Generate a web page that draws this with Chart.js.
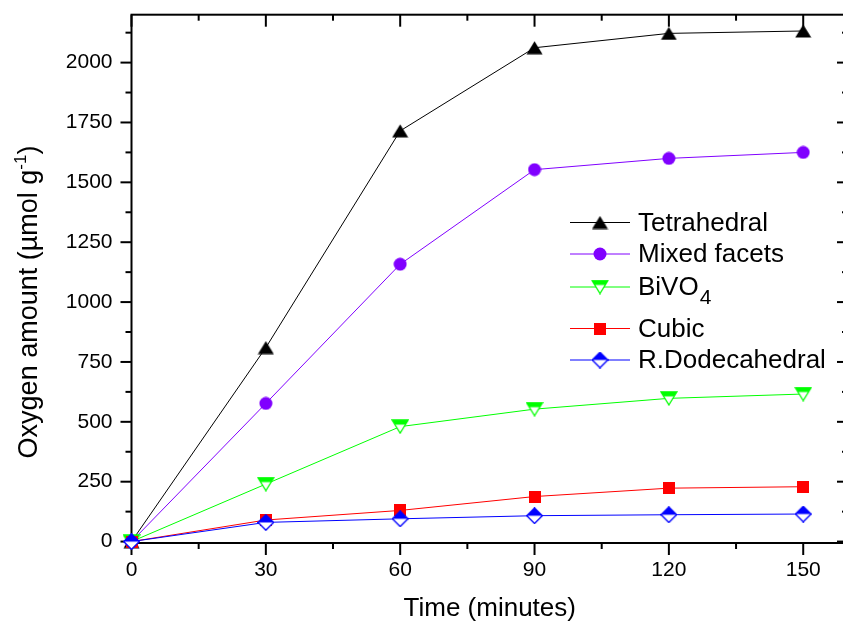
<!DOCTYPE html>
<html>
<head>
<meta charset="utf-8">
<script src="https://cdn.jsdelivr.net/npm/chart.js@4.4.0/dist/chart.umd.min.js"></script>
<style>
  html, body { margin: 0; padding: 0; background: #fff; overflow: hidden; }
  #wrap { width: 843px; height: 628px; overflow: hidden; }
  #chart { display: block; width: 850px; height: 628px; }
</style>
</head>
<body>
<div id="wrap"><canvas id="chart" width="850" height="628"></canvas></div>
<script>
// time points and oxygen evolved (umol/g)
var minutes       = [0, 30, 60, 90, 120, 150];
var tetrahedral   = [0, 810, 1715, 2062, 2122, 2132];
var mixedFacets   = [0, 577, 1158, 1553, 1600, 1625];
var bivo4         = [0, 240, 480, 553, 598, 616];
var cubic         = [0, 90, 130, 188, 223, 229];
var rDodecahedral = [0, 80, 95, 108, 112, 115];

var seriesNames = ['Tetrahedral', 'Mixed facets', 'BiVO4', 'Cubic', 'R.Dodecahedral'];

var xMajor = [0, 30, 60, 90, 120, 150];
var xMinor = [15, 45, 75, 105, 135];
var yMajor = [0, 250, 500, 750, 1000, 1250, 1500, 1750, 2000];
var yMinor = [125, 375, 625, 875, 1125, 1375, 1625, 1875, 2125];

var FONT = '"Liberation Sans", Arial, sans-serif';

function marker(w, h, paint) {
  var c = document.createElement('canvas');
  c.width = w; c.height = h;
  paint(c.getContext('2d'));
  return c;
}

var markers = {
  up: marker(17, 14, function (g) {
    g.beginPath(); g.moveTo(8.5, 0.5); g.lineTo(16.5, 13.5); g.lineTo(0.5, 13.5); g.closePath();
    g.fillStyle = '#000'; g.fill();
  }),
  circle: marker(14, 14, function (g) {
    g.beginPath(); g.arc(7, 7, 6.5, 0, Math.PI * 2);
    g.fillStyle = '#8000ff'; g.fill();
  }),
  down: marker(18, 15, function (g) {
    g.beginPath(); g.moveTo(1, 1); g.lineTo(17, 1); g.lineTo(9, 14); g.closePath();
    g.fillStyle = '#fff'; g.fill();
    g.save(); g.clip(); g.fillStyle = '#00ff00'; g.fillRect(0, 0, 18, 5.5); g.restore();
    g.strokeStyle = '#00ff00'; g.lineWidth = 1.3; g.stroke();
  }),
  square: marker(12, 12, function (g) {
    g.fillStyle = '#ff0000'; g.fillRect(0, 0, 12, 12);
  }),
  diamond: marker(17, 17, function (g) {
    g.beginPath(); g.moveTo(8.5, 0.7); g.lineTo(16.3, 8.5); g.lineTo(8.5, 16.3); g.lineTo(0.7, 8.5); g.closePath();
    g.fillStyle = '#fff'; g.fill();
    g.save(); g.clip(); g.fillStyle = '#0000ff'; g.fillRect(0, 0, 17, 8.5); g.restore();
    g.strokeStyle = '#0000ff'; g.lineWidth = 1.3; g.stroke();
  })
};

var colors = ['#000000', '#8000ff', '#00ff00', '#ff0000', '#0000ff'];
var styles = [markers.up, markers.circle, markers.down, markers.square, markers.diamond];
var values = [tetrahedral, mixedFacets, bivo4, cubic, rDodecahedral];

var datasets = values.map(function (vals, i) {
  return {
    label: seriesNames[i],
    data: vals.map(function (v, j) { return { x: minutes[j], y: v }; }),
    borderColor: colors[i],
    backgroundColor: colors[i],
    borderWidth: 1,
    tension: 0,
    pointStyle: styles[i],
    pointRadius: 6,
    pointHoverRadius: 6,
    clip: false,
    order: 4 - i
  };
});

function tickLine(ctx, x1, y1, x2, y2) {
  ctx.beginPath(); ctx.moveTo(x1, y1); ctx.lineTo(x2, y2); ctx.stroke();
}

// box + Origin-style ticks (out on left/bottom, in on top/right)
var frame = {
  id: 'frame',
  beforeDatasetsDraw: function (chart) {
    var ctx = chart.ctx, a = chart.chartArea, xs = chart.scales.x, ys = chart.scales.y;
    ctx.save();
    ctx.strokeStyle = '#000';
    ctx.lineWidth = 2;
    ctx.strokeRect(a.left, a.top, a.right - a.left, a.bottom - a.top);
    xMajor.forEach(function (v) {
      var p = xs.getPixelForValue(v);
      tickLine(ctx, p, a.bottom, p, a.bottom + 12);
      tickLine(ctx, p, a.top, p, a.top + 12);
    });
    xMinor.forEach(function (v) {
      var p = xs.getPixelForValue(v);
      tickLine(ctx, p, a.bottom, p, a.bottom + 6);
      tickLine(ctx, p, a.top, p, a.top + 6);
    });
    yMajor.forEach(function (v) {
      var p = ys.getPixelForValue(v);
      tickLine(ctx, a.left - 11, p, a.left, p);
      tickLine(ctx, a.right, p, a.right - 11, p);
    });
    yMinor.forEach(function (v) {
      var p = ys.getPixelForValue(v);
      tickLine(ctx, a.left - 6, p, a.left, p);
      tickLine(ctx, a.right, p, a.right - 6, p);
    });
    ctx.restore();
  }
};

var annotate = {
  id: 'annotate',
  afterDraw: function (chart) {
    var ctx = chart.ctx, a = chart.chartArea;
    ctx.save();
    ctx.fillStyle = '#000';

    // x title
    ctx.font = '26px ' + FONT;
    ctx.textAlign = 'center';
    ctx.textBaseline = 'alphabetic';
    ctx.fillText('Time (minutes)', (a.left + a.right) / 2, 616);

    // y title with superscript
    var main = 'Oxygen amount (\u00b5mol g', sup = '-1', close = ')';
    ctx.font = '27px ' + FONT;
    var w1 = ctx.measureText(main).width, w3 = ctx.measureText(close).width;
    ctx.font = '17px ' + FONT;
    var w2 = ctx.measureText(sup).width;
    var total = w1 + w2 + w3;
    ctx.translate(36.5, 302);
    ctx.rotate(-Math.PI / 2);
    ctx.textAlign = 'left';
    ctx.font = '27px ' + FONT;
    ctx.fillText(main, -total / 2, 0);
    ctx.font = '17px ' + FONT;
    ctx.fillText(sup, -total / 2 + w1, -11);
    ctx.font = '27px ' + FONT;
    ctx.fillText(close, -total / 2 + w1 + w2, 0);
    ctx.setTransform(1, 0, 0, 1, 0, 0);

    // legend
    var rows = [222.5, 254, 287, 328.5, 360];
    ctx.textAlign = 'left';
    ctx.textBaseline = 'middle';
    rows.forEach(function (y, i) {
      ctx.strokeStyle = colors[i];
      ctx.lineWidth = 1;
      tickLine(ctx, 570, y, 630, y);
      var m = styles[i];
      ctx.drawImage(m, 600 - m.width / 2, y - m.height / 2);
      ctx.font = '26px ' + FONT;
      if (seriesNames[i] === 'BiVO4') {
        ctx.fillText('BiVO', 638, y + 1);
        var bw = ctx.measureText('BiVO').width;
        ctx.font = '21px ' + FONT;
        ctx.fillText('4', 638 + bw + 1, y + 11);
      } else {
        ctx.fillText(seriesNames[i], 638, y + 1);
      }
    });
    ctx.restore();
  }
};

function plain(v) { return String(v); }

// keep the scales from reserving extra room for their end labels
function noPadding(s) {
  s.paddingLeft = 0; s.paddingRight = 0; s.paddingTop = 0; s.paddingBottom = 0;
}

new Chart(document.getElementById('chart'), {
  type: 'line',
  data: { datasets: datasets },
  options: {
    responsive: false,
    maintainAspectRatio: false,
    devicePixelRatio: 1,
    animation: false,
    events: [],
    layout: { autoPadding: false, padding: { top: 14.7, right: 2, left: 0, bottom: 0 } },
    plugins: { legend: { display: false }, tooltip: { enabled: false } },
    scales: {
      x: {
        type: 'linear',
        min: 0,
        max: 160,
        afterFit: function (s) { s.height = 85; noPadding(s); },
        afterBuildTicks: function (s) { s.ticks = xMajor.map(function (v) { return { value: v }; }); },
        border: { display: false },
        grid: { drawOnChartArea: false, drawTicks: true, tickLength: 12, color: 'rgba(0,0,0,0)' },
        ticks: { color: '#000', padding: 3, maxRotation: 0, callback: plain, font: { family: FONT, size: 21 } }
      },
      y: {
        type: 'linear',
        min: -6,
        max: 2200,
        afterFit: function (s) { s.width = 131.5; noPadding(s); },
        afterBuildTicks: function (s) { s.ticks = yMajor.map(function (v) { return { value: v }; }); },
        border: { display: false },
        grid: { drawOnChartArea: false, drawTicks: true, tickLength: 11, color: 'rgba(0,0,0,0)' },
        ticks: { color: '#000', padding: 8, callback: plain, font: { family: FONT, size: 21 } }
      }
    }
  },
  plugins: [frame, annotate]
});
</script>
</body>
</html>
